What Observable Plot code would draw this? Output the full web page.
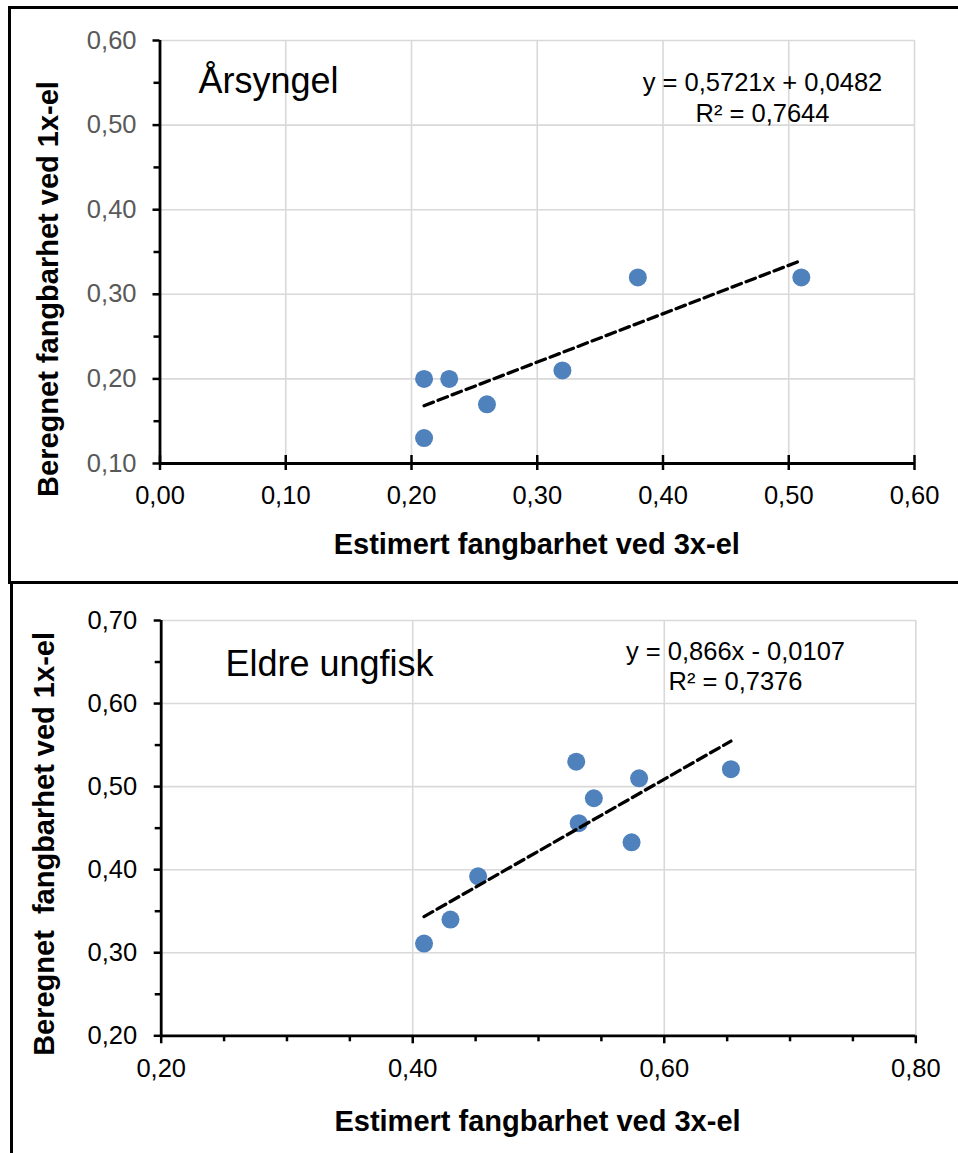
<!DOCTYPE html>
<html>
<head>
<meta charset="utf-8">
<script src="https://cdn.jsdelivr.net/npm/d3@7"></script>
<script src="https://cdn.jsdelivr.net/npm/@observablehq/plot@0.6"></script>
<style>
html, body { margin: 0; padding: 0; background: #fff; }
body { width: 958px; height: 1153px; position: relative; overflow: hidden; font-family: "Liberation Sans", Arial, sans-serif; }
.panel { position: absolute; left: 0; }
.box { position: absolute; border: 3px solid #000; box-sizing: border-box; pointer-events: none; }
</style>
</head>
<body>
<div id="top" class="panel" style="top:0px"></div>
<div id="bottom" class="panel" style="top:583px"></div>
<div class="box" style="left:8px;top:6px;width:1000px;height:578px"></div>
<div class="box" style="left:10px;top:581px;width:1000px;height:700px"></div>
<script>
// ---------- Data ----------
// Top panel: Årsyngel
const topTitle = "Årsyngel";
const topX = [0.21, 0.23, 0.21, 0.26, 0.32, 0.38, 0.51];
const topY = [0.20, 0.20, 0.13, 0.17, 0.21, 0.32, 0.32];
const topSlope = 0.5721;
const topIntercept = 0.0482;
const topEquation = ["y = 0,5721x + 0,0482", "R² = 0,7644"];
const topXTicks = [0.0, 0.1, 0.2, 0.3, 0.4, 0.5, 0.6];
const topYTicks = [0.1, 0.2, 0.3, 0.4, 0.5, 0.6];
const topYMinor = [0.15, 0.25, 0.35, 0.45, 0.55];

// Bottom panel: Eldre ungfisk
const bottomTitle = "Eldre ungfisk";
const bottomX = [0.530, 0.580, 0.544, 0.532, 0.574, 0.653, 0.452, 0.430, 0.409];
const bottomY = [0.530, 0.510, 0.486, 0.456, 0.433, 0.521, 0.392, 0.340, 0.311];
const bottomSlope = 0.866;
const bottomIntercept = -0.0107;
const bottomEquation = ["y = 0,866x - 0,0107", "R² = 0,7376"];
const bottomXTicks = [0.2, 0.4, 0.6, 0.8];
const bottomXMinor = [0.25, 0.3, 0.35, 0.45, 0.5, 0.55, 0.65, 0.7, 0.75];
const bottomYTicks = [0.2, 0.3, 0.4, 0.5, 0.6, 0.7];
const bottomYMinor = [0.25, 0.35, 0.45, 0.55, 0.65];

const xTitle = "Estimert fangbarhet ved 3x-el";
const yTitleTop = "Beregnet fangbarhet ved 1x-el";
const yTitleBottom = "Beregnet\u00a0 fangbarhet ved 1x-el";

// ---------- Rendering ----------
const FONT = "'Liberation Sans', Arial, sans-serif";
const fmt = d => d.toFixed(2).replace(".", ",");
const GRID = "#d9d9d9";
const DOT = "#4f81bd";

function rows(xs, ys) { return xs.map((x, i) => ({x, y: ys[i]})); }
function fitLine(xs, slope, intercept) {
  const lo = d3.min(xs), hi = d3.max(xs);
  return [lo, hi].map(x => ({x, y: slope * x + intercept}));
}

function panel(o) {
  return Plot.plot({
    width: 958,
    height: o.height,
    marginLeft: o.ml, marginRight: o.mr, marginTop: o.mt, marginBottom: o.mb,
    x: {domain: o.xDomain, label: null},
    y: {domain: o.yDomain, label: null},
    style: {background: "transparent", fontFamily: FONT, overflow: "visible", color: "#000"},
    marks: [
      Plot.gridX(o.xGrid, {stroke: GRID, strokeOpacity: 1, strokeWidth: 1.6}),
      Plot.gridY(o.yGrid, {stroke: GRID, strokeOpacity: 1, strokeWidth: 1.6}),
      // y ticks
      Plot.axisY(o.yTicks, {tickSize: 7, strokeWidth: 2.5, stroke: "#000", fill: "none", label: null}),
      Plot.axisY(o.yMinor, {tickSize: 6, strokeWidth: 2.5, stroke: "#000", fill: "none", label: null}),
      Plot.axisY(o.yTicks, {tickSize: 0, tickPadding: o.yPad, fontSize: 25.5, fill: o.yColor, tickFormat: fmt, label: null}),
      // x ticks
      Plot.axisX(o.xTicks, {tickSize: o.xTickLen, dy: o.xTickDy, strokeWidth: 2.5, stroke: "#000", fill: "none", label: null}),
      o.xMinor ? Plot.axisX(o.xMinor, {tickSize: 6, strokeWidth: 2.5, stroke: "#000", fill: "none", label: null}) : null,
      Plot.axisX(o.xTicks, {tickSize: 0, tickPadding: o.xPad, fontSize: 25.5, fill: "#000", tickFormat: fmt, label: null}),
      // axis lines
      Plot.ruleX([o.xDomain[0]], {stroke: "#000", strokeWidth: 2.8}),
      Plot.ruleY([o.yDomain[0]], {stroke: "#000", strokeWidth: 2.8}),
      // data
      Plot.dot(o.points, {x: "x", y: "y", r: 9, fill: DOT, stroke: "none"}),
      Plot.line(o.fit, {x: "x", y: "y", stroke: "#000", strokeWidth: 3.3, strokeDasharray: "10,5"}),
      // texts
      Plot.text([o.title], {text: d => d, frameAnchor: "top-left", dx: o.titleDx, dy: o.titleDy, textAnchor: "start", lineAnchor: "bottom", fontSize: 36, fill: "#000"}),
      Plot.text([o.eq[0]], {text: d => d, frameAnchor: "top-left", dx: o.eqDx, dy: o.eqDy1, textAnchor: "middle", lineAnchor: "bottom", fontSize: 25.5, fill: "#000"}),
      Plot.text([o.eq[1]], {text: d => d, frameAnchor: "top-left", dx: o.eqDx, dy: o.eqDy2, textAnchor: "middle", lineAnchor: "bottom", fontSize: 25.5, fill: "#000"}),
      Plot.text([xTitle], {text: d => d, frameAnchor: "bottom", dx: o.xtDx, dy: o.xtDy, textAnchor: "middle", lineAnchor: "bottom", fontSize: 29, fontWeight: "bold", fill: "#000"}),
      Plot.text([o.yTitle], {text: d => d, frameAnchor: "left", dx: o.ytDx, dy: o.ytDy, rotate: -90, textAnchor: "middle", lineAnchor: "bottom", fontSize: 29, fontWeight: "bold", fill: "#000"})
    ]
  });
}

document.getElementById("top").appendChild(panel({
  height: 583, ml: 159.5, mr: 44, mt: 40, mb: 120,
  xDomain: [0, 0.6], yDomain: [0.1, 0.6],
  xGrid: topXTicks.slice(1), yGrid: topYTicks.slice(1),
  xTicks: topXTicks, xMinor: null, xTickLen: 15, xTickDy: -8, xPad: 22,
  yTicks: topYTicks, yMinor: topYMinor, yPad: 23.5, yColor: "#595959",
  points: rows(topX, topY), fit: fitLine(topX, topSlope, topIntercept),
  title: topTitle, titleDx: 38.5, titleDy: 52,
  eq: topEquation, eqDx: 602.5, eqDy1: 50.7, eqDy2: 81.7,
  xtDx: -0.5, xtDy: 90,
  yTitle: yTitleTop, ytDx: -102.5, ytDy: 37
}));

document.getElementById("bottom").appendChild(panel({
  height: 570, ml: 160.7, mr: 42.7, mt: 37, mb: 117.7,
  xDomain: [0.2, 0.8], yDomain: [0.2, 0.7],
  xGrid: bottomXTicks.slice(1), yGrid: bottomYTicks.slice(1),
  xTicks: bottomXTicks, xMinor: bottomXMinor, xTickLen: 8, xTickDy: 0, xPad: 23,
  yTicks: bottomYTicks, yMinor: bottomYMinor, yPad: 24, yColor: "#000",
  points: rows(bottomX, bottomY), fit: fitLine(bottomX, bottomSlope, bottomIntercept),
  title: bottomTitle, titleDx: 64.3, titleDy: 55,
  eq: bottomEquation, eqDx: 574.3, eqDy1: 39, eqDy2: 69.3,
  xtDx: -1, xtDy: 94.7,
  yTitle: yTitleBottom, ytDx: -107.4, ytDy: 15.8
}));
</script>
</body>
</html>
